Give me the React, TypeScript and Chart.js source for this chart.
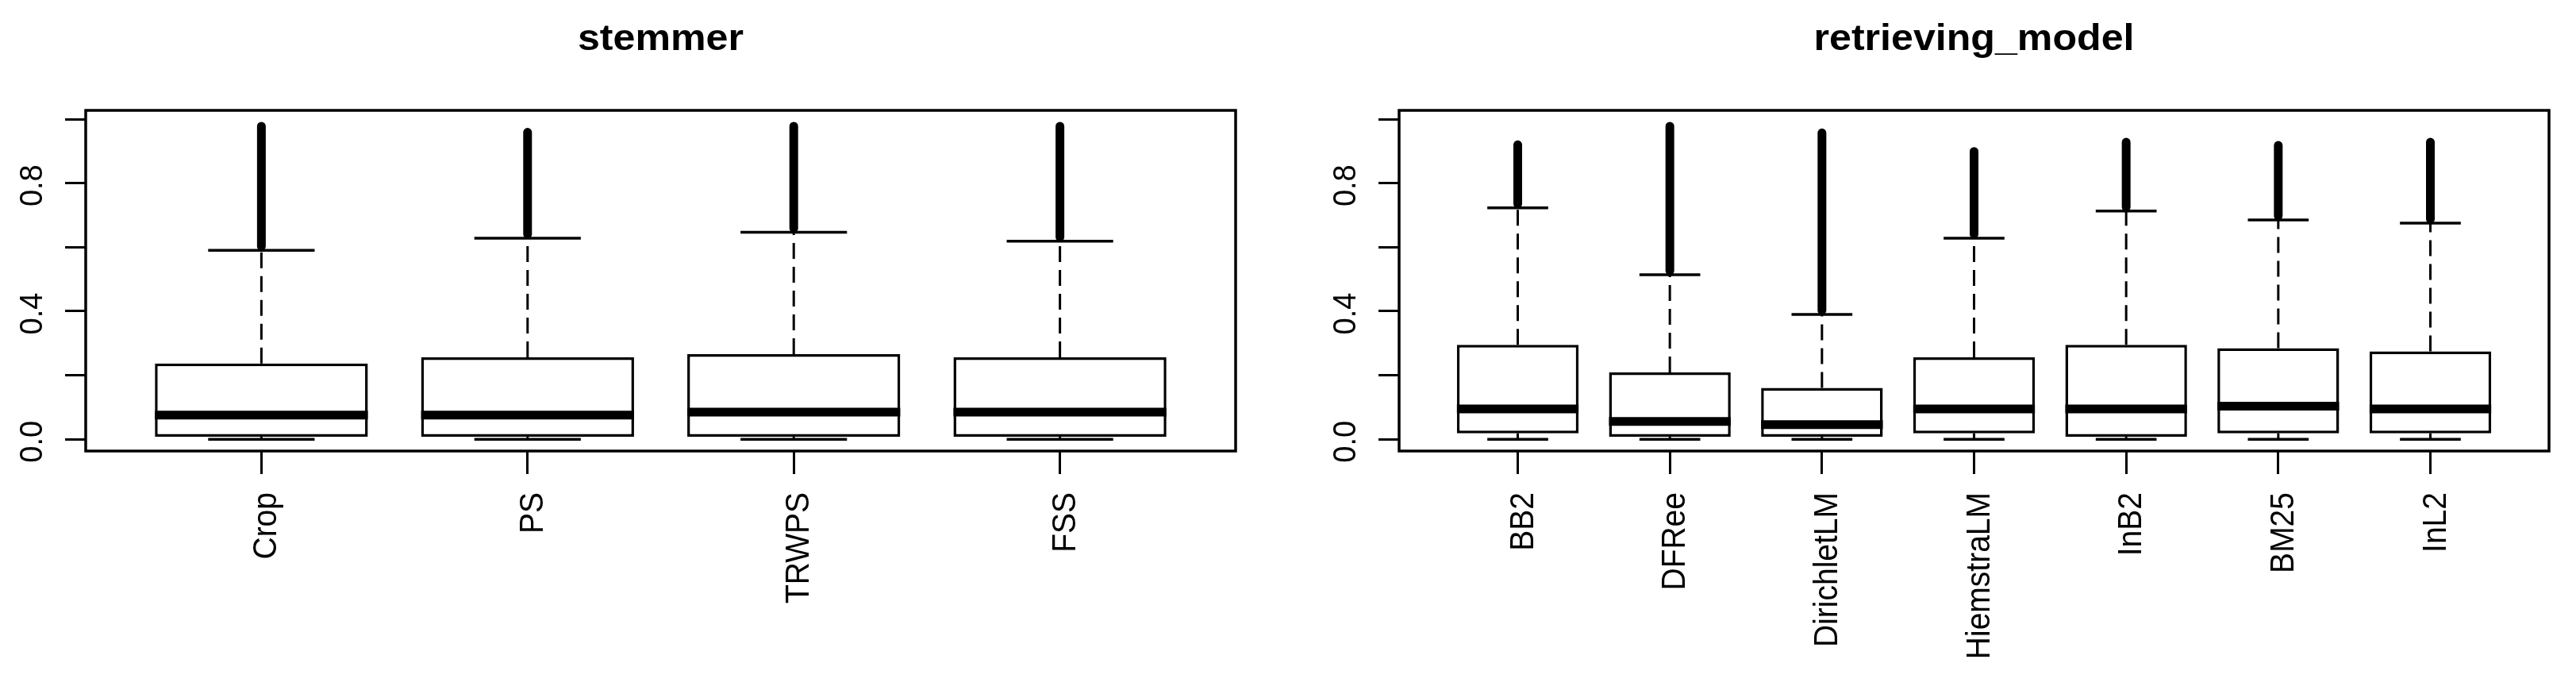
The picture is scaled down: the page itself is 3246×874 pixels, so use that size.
import React, { useEffect, useRef } from 'react';
import { Chart, registerables } from 'chart.js';

Chart.register(...registerables);

// ---------- data ----------
const yTickValues = [0, 0.2, 0.4, 0.6, 0.8, 1.0];
const yTickLabels = ['0.0', '', '0.4', '', '0.8', ''];
const yMin = -0.0364;
const yMax = 1.0273;

const stemmerTitle = 'stemmer';
const stemmerLabels = ['Crop', 'PS', 'TRWPS', 'FSS'];
const stemmerQ1 = [0.008, 0.008, 0.008, 0.008];
const stemmerMedian = [0.076, 0.076, 0.085, 0.085];
const stemmerQ3 = [0.237, 0.256, 0.266, 0.256];
const stemmerWhiskerLow = [0, 0, 0, 0];
const stemmerWhiskerHigh = [0.59, 0.628, 0.647, 0.619];
const stemmerOutlierMax = [0.978, 0.959, 0.978, 0.978];

const modelTitle = 'retrieving_model';
const modelLabels = ['BB2', 'DFRee', 'DirichletLM', 'HiemstraLM', 'InB2', 'BM25', 'InL2'];
const modelQ1 = [0.019, 0.008, 0.008, 0.019, 0.008, 0.019, 0.019];
const modelMedian = [0.095, 0.056, 0.046, 0.095, 0.095, 0.104, 0.095];
const modelQ3 = [0.295, 0.209, 0.161, 0.256, 0.295, 0.285, 0.275];
const modelWhiskerLow = [0, 0, 0, 0, 0, 0, 0];
const modelWhiskerHigh = [0.723, 0.514, 0.39, 0.628, 0.713, 0.685, 0.675];
const modelOutlierMax = [0.92, 0.978, 0.957, 0.899, 0.928, 0.918, 0.928];

// ---------- style ----------
const FONT = '"Liberation Sans", Arial, Helvetica, sans-serif';
const X_STRETCH = 1.09;
const CANVAS_W = 1623;
const CANVAS_H = 874;
const LW = 3.5;

type Panel = {
  title: string;
  labels: string[];
  q1: number[];
  median: number[];
  q3: number[];
  whiskerLow: number[];
  whiskerHigh: number[];
  outlierMax: number[];
  padding: { left: number; right: number; top: number; bottom: number };
};

const panels: Panel[] = [
  {
    title: stemmerTitle,
    labels: stemmerLabels,
    q1: stemmerQ1,
    median: stemmerMedian,
    q3: stemmerQ3,
    whiskerLow: stemmerWhiskerLow,
    whiskerHigh: stemmerWhiskerHigh,
    outlierMax: stemmerOutlierMax,
    padding: { left: 68, right: 66, top: 139, bottom: 266 },
  },
  {
    title: modelTitle,
    labels: modelLabels,
    q1: modelQ1,
    median: modelMedian,
    q3: modelQ3,
    whiskerLow: modelWhiskerLow,
    whiskerHigh: modelWhiskerHigh,
    outlierMax: modelOutlierMax,
    padding: { left: 100, right: 34, top: 139, bottom: 266 },
  },
];

function makePlugin(p: Panel) {
  const line = (ctx: CanvasRenderingContext2D, x1: number, y1: number, x2: number, y2: number) => {
    ctx.beginPath();
    ctx.moveTo(x1, y1);
    ctx.lineTo(x2, y2);
    ctx.stroke();
  };
  return {
    id: 'rBoxplot',
    beforeDatasetsDraw(chart: any) {
      const ctx: CanvasRenderingContext2D = chart.ctx;
      const xs = chart.scales.x;
      const ys = chart.scales.y;
      ctx.save();
      ctx.strokeStyle = '#000';
      ctx.lineWidth = 3;
      ctx.lineCap = 'butt';
      ctx.setLineDash([20, 10]);
      p.labels.forEach((_, i) => {
        const x = xs.getPixelForValue(i);
        line(ctx, x, ys.getPixelForValue(p.q3[i]), x, ys.getPixelForValue(p.whiskerHigh[i]));
        line(ctx, x, ys.getPixelForValue(p.q1[i]), x, ys.getPixelForValue(p.whiskerLow[i]));
      });
      ctx.restore();
    },
    afterDatasetsDraw(chart: any) {
      const ctx: CanvasRenderingContext2D = chart.ctx;
      const xs = chart.scales.x;
      const ys = chart.scales.y;
      const unit = xs.getPixelForValue(1) - xs.getPixelForValue(0);
      ctx.save();
      ctx.strokeStyle = '#000';
      ctx.setLineDash([]);
      p.labels.forEach((_, i) => {
        const x = xs.getPixelForValue(i);
        // median
        ctx.lineCap = 'butt';
        ctx.lineWidth = 11;
        const ym = ys.getPixelForValue(p.median[i]);
        line(ctx, x - 0.4 * unit, ym, x + 0.4 * unit, ym);
        // staples
        ctx.lineWidth = LW;
        const yh = ys.getPixelForValue(p.whiskerHigh[i]);
        const yl = ys.getPixelForValue(p.whiskerLow[i]);
        line(ctx, x - 0.2 * unit, yh, x + 0.2 * unit, yh);
        line(ctx, x - 0.2 * unit, yl, x + 0.2 * unit, yl);
        // dense outliers (overlapping circles)
        ctx.lineWidth = 11;
        ctx.lineCap = 'round';
        line(ctx, x, yh - 5, x, ys.getPixelForValue(p.outlierMax[i]));
      });
      ctx.restore();
    },
    afterDraw(chart: any) {
      const ctx: CanvasRenderingContext2D = chart.ctx;
      const xs = chart.scales.x;
      const ys = chart.scales.y;
      const a = chart.chartArea;
      ctx.save();
      // frame
      ctx.strokeStyle = '#000';
      ctx.lineWidth = LW;
      ctx.setLineDash([]);
      ctx.strokeRect(a.left, a.top, a.right - a.left, a.bottom - a.top);
      ctx.fillStyle = '#000';
      // y labels
      ctx.font = `38px ${FONT}`;
      yTickValues.forEach((v, i) => {
        const t = yTickLabels[i];
        if (!t) return;
        ctx.save();
        ctx.translate(a.left - 55.5, ys.getPixelForValue(v) + 3);
        ctx.scale(X_STRETCH, 1);
        ctx.rotate(-Math.PI / 2);
        ctx.textAlign = 'center';
        ctx.textBaseline = 'alphabetic';
        ctx.fillText(t, 0, 0);
        ctx.restore();
      });
      // x labels
      ctx.font = `39px ${FONT}`;
      p.labels.forEach((lab, i) => {
        ctx.save();
        ctx.translate(xs.getPixelForValue(i) + 19, a.bottom + 52);
        ctx.scale(X_STRETCH, 1);
        ctx.rotate(-Math.PI / 2);
        ctx.textAlign = 'right';
        ctx.textBaseline = 'alphabetic';
        ctx.fillText(lab, 0, 0);
        ctx.restore();
      });
      // title
      ctx.save();
      ctx.font = `bold 46px ${FONT}`;
      ctx.translate((a.left + a.right) / 2, a.top - 75.7);
      ctx.scale(X_STRETCH, 1);
      ctx.textAlign = 'center';
      ctx.textBaseline = 'alphabetic';
      ctx.fillText(p.title, 0, 0);
      ctx.restore();
      ctx.restore();
    },
  };
}

function BoxPanel({ panel, left }: { panel: Panel; left: number }) {
  const ref = useRef<HTMLCanvasElement | null>(null);
  useEffect(() => {
    if (!ref.current) return;
    const n = panel.labels.length;
    const margin = 0.5 + 0.04 * n;
    const chart = new Chart(ref.current, {
      type: 'bar',
      data: {
        datasets: [
          {
            data: panel.labels.map((_, i) => ({ x: i, y: [panel.q1[i], panel.q3[i]] })) as any,
            backgroundColor: '#ffffff',
            borderColor: '#000000',
            borderWidth: LW,
            borderSkipped: false,
            categoryPercentage: 1,
            barPercentage: 0.8,
          } as any,
        ],
      },
      options: {
        responsive: false,
        maintainAspectRatio: false,
        animation: false,
        devicePixelRatio: 1,
        events: [],
        layout: { padding: panel.padding },
        plugins: { legend: { display: false }, tooltip: { enabled: false }, title: { display: false } },
        scales: {
          x: {
            type: 'linear',
            offset: false,
            min: -margin,
            max: n - 1 + margin,
            afterBuildTicks: (s: any) => {
              s.ticks = panel.labels.map((_, i) => ({ value: i }));
            },
            afterFit: (s: any) => {
              s.height = 40;
            },
            ticks: { display: false },
            border: { display: false },
            grid: {
              display: true,
              offset: false,
              drawOnChartArea: false,
              drawTicks: true,
              tickLength: 29,
              tickWidth: 3,
              tickColor: '#000',
              color: '#000',
              lineWidth: 3,
            },
          },
          y: {
            type: 'linear',
            min: yMin,
            max: yMax,
            afterBuildTicks: (s: any) => {
              s.ticks = yTickValues.map((v) => ({ value: v }));
            },
            afterFit: (s: any) => {
              s.width = 40;
            },
            ticks: { display: false },
            border: { display: false },
            grid: {
              display: true,
              drawOnChartArea: false,
              drawTicks: true,
              tickLength: 26,
              tickWidth: 3,
              tickColor: '#000',
              color: '#000',
              lineWidth: 3,
            },
          },
        },
      } as any,
      plugins: [makePlugin(panel)],
    });
    return () => chart.destroy();
  }, [panel]);
  return (
    <canvas
      ref={ref}
      width={CANVAS_W}
      height={CANVAS_H}
      style={{ position: 'absolute', left, top: 0, width: CANVAS_W, height: CANVAS_H, display: 'block' }}
    />
  );
}

export default function App() {
  return (
    <div style={{ position: 'absolute', left: 0, top: 0, width: 3246, height: 874, background: '#ffffff' }}>
      <BoxPanel panel={panels[0]} left={0} />
      <BoxPanel panel={panels[1]} left={CANVAS_W} />
    </div>
  );
}
